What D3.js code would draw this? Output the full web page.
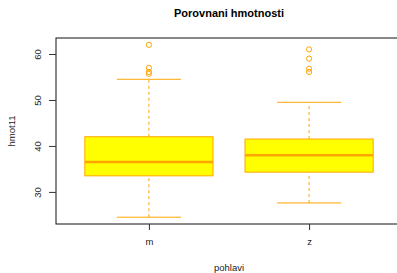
<!DOCTYPE html>
<html>
<head>
<meta charset="utf-8">
<script src="https://cdn.jsdelivr.net/npm/d3@7"></script>
<style>
  body { margin: 0; background: #fff; }
  text { font-family: "Liberation Sans", Arial, sans-serif; }
</style>
</head>
<body>
<div id="chart"></div>
<script>
const groups = ['m', 'z'];
const q1 = [33.5, 34.3];
const medians = [36.5, 38.0];
const q3 = [42.0, 41.5];
const whiskLo = [24.5, 27.6];
const whiskHi = [54.5, 49.5];
const outliers = [[62, 57, 56.1, 55.7], [61, 59, 56.8, 56.1]];
const yTicks = [30, 40, 50, 60];

const width = 397, height = 273;
const mLeft = 56, mTop = 38, mBottom = 224, mRight = 402;

const svg = d3.select('#chart')
    .append('svg')
    .attr('width', width)
    .attr('height', height);

const x = d3.scaleLinear().domain([0.42, 2.58]).range([mLeft, mRight]);
const y = d3.scaleLinear().domain([23.02, 63.48]).range([mBottom, mTop]);
const boxHalf = 0.4, capHalf = 0.2;

// frame
svg.append('rect')
    .attr('x', mLeft).attr('y', mTop)
    .attr('width', mRight - mLeft).attr('height', mBottom - mTop)
    .attr('fill', 'none').attr('stroke', '#111').attr('stroke-width', 1);

const box = svg.append('g')
    .selectAll('g')
    .data(groups)
    .enter().append('g');

box.append('line')
    .attr('x1', (d, i) => x(i + 1)).attr('x2', (d, i) => x(i + 1))
    .attr('y1', (d, i) => y(whiskLo[i])).attr('y2', (d, i) => y(q1[i]))
    .attr('stroke', '#ffa500').attr('stroke-dasharray', '3,3');
box.append('line')
    .attr('x1', (d, i) => x(i + 1)).attr('x2', (d, i) => x(i + 1))
    .attr('y1', (d, i) => y(q3[i])).attr('y2', (d, i) => y(whiskHi[i]))
    .attr('stroke', '#ffa500').attr('stroke-dasharray', '3,3');
[whiskLo, whiskHi].forEach(arr => {
    box.append('line')
        .attr('x1', (d, i) => x(i + 1 - capHalf)).attr('x2', (d, i) => x(i + 1 + capHalf))
        .attr('y1', (d, i) => y(arr[i])).attr('y2', (d, i) => y(arr[i]))
        .attr('stroke', '#ffa500');
});
box.append('rect')
    .attr('x', (d, i) => x(i + 1 - boxHalf))
    .attr('width', (d, i) => x(i + 1 + boxHalf) - x(i + 1 - boxHalf))
    .attr('y', (d, i) => y(q3[i]))
    .attr('height', (d, i) => y(q1[i]) - y(q3[i]))
    .attr('fill', '#ffff00').attr('stroke', '#ffa500');
box.append('line')
    .attr('x1', (d, i) => x(i + 1 - boxHalf)).attr('x2', (d, i) => x(i + 1 + boxHalf))
    .attr('y1', (d, i) => y(medians[i])).attr('y2', (d, i) => y(medians[i]))
    .attr('stroke', '#ffa500').attr('stroke-width', 2.5);
box.each(function (d, i) {
    d3.select(this).selectAll('circle')
        .data(outliers[i])
        .enter().append('circle')
        .attr('cx', x(i + 1)).attr('cy', v => y(v))
        .attr('r', 2.6)
        .attr('fill', 'none').attr('stroke', '#ffa500').attr('stroke-width', 1);
});

// y axis
const yAxis = svg.append('g').attr('transform', `translate(${mLeft},0)`)
    .call(d3.axisLeft(y).tickValues(yTicks).tickSize(7).tickSizeOuter(0));
yAxis.select('.domain').remove();
yAxis.selectAll('line').attr('stroke', '#333');
yAxis.selectAll('text')
    .attr('x', 0).attr('y', 0).attr('dy', '0')
    .attr('transform', 'translate(-15,0) rotate(-90)')
    .attr('text-anchor', 'middle')
    .attr('font-size', 9.5).attr('fill', '#222')
    .attr('font-family', '"Liberation Sans", Arial, sans-serif');

// x axis
const xAxis = svg.append('g').attr('transform', `translate(0,${mBottom})`)
    .call(d3.axisBottom(x).tickValues([1, 2]).tickFormat((d, i) => groups[i]).tickSize(6).tickSizeOuter(0));
xAxis.select('.domain').remove();
xAxis.selectAll('line').attr('stroke', '#333');
xAxis.selectAll('text')
    .attr('y', 14).attr('font-size', 9.5).attr('fill', '#222')
    .attr('font-family', '"Liberation Sans", Arial, sans-serif');

svg.append('text')
    .attr('x', 229).attr('y', 17)
    .attr('text-anchor', 'middle')
    .attr('font-size', 11).attr('font-weight', 'bold')
    .text('Porovnani hmotnosti');

svg.append('text')
    .attr('x', 229).attr('y', 271)
    .attr('text-anchor', 'middle')
    .attr('font-size', 9.5).attr('fill', '#222')
    .text('pohlavi');

svg.append('text')
    .attr('transform', 'translate(15,131) rotate(-90)')
    .attr('text-anchor', 'middle')
    .attr('font-size', 9.5).attr('fill', '#222')
    .text('hmot11');
</script>
</body>
</html>
